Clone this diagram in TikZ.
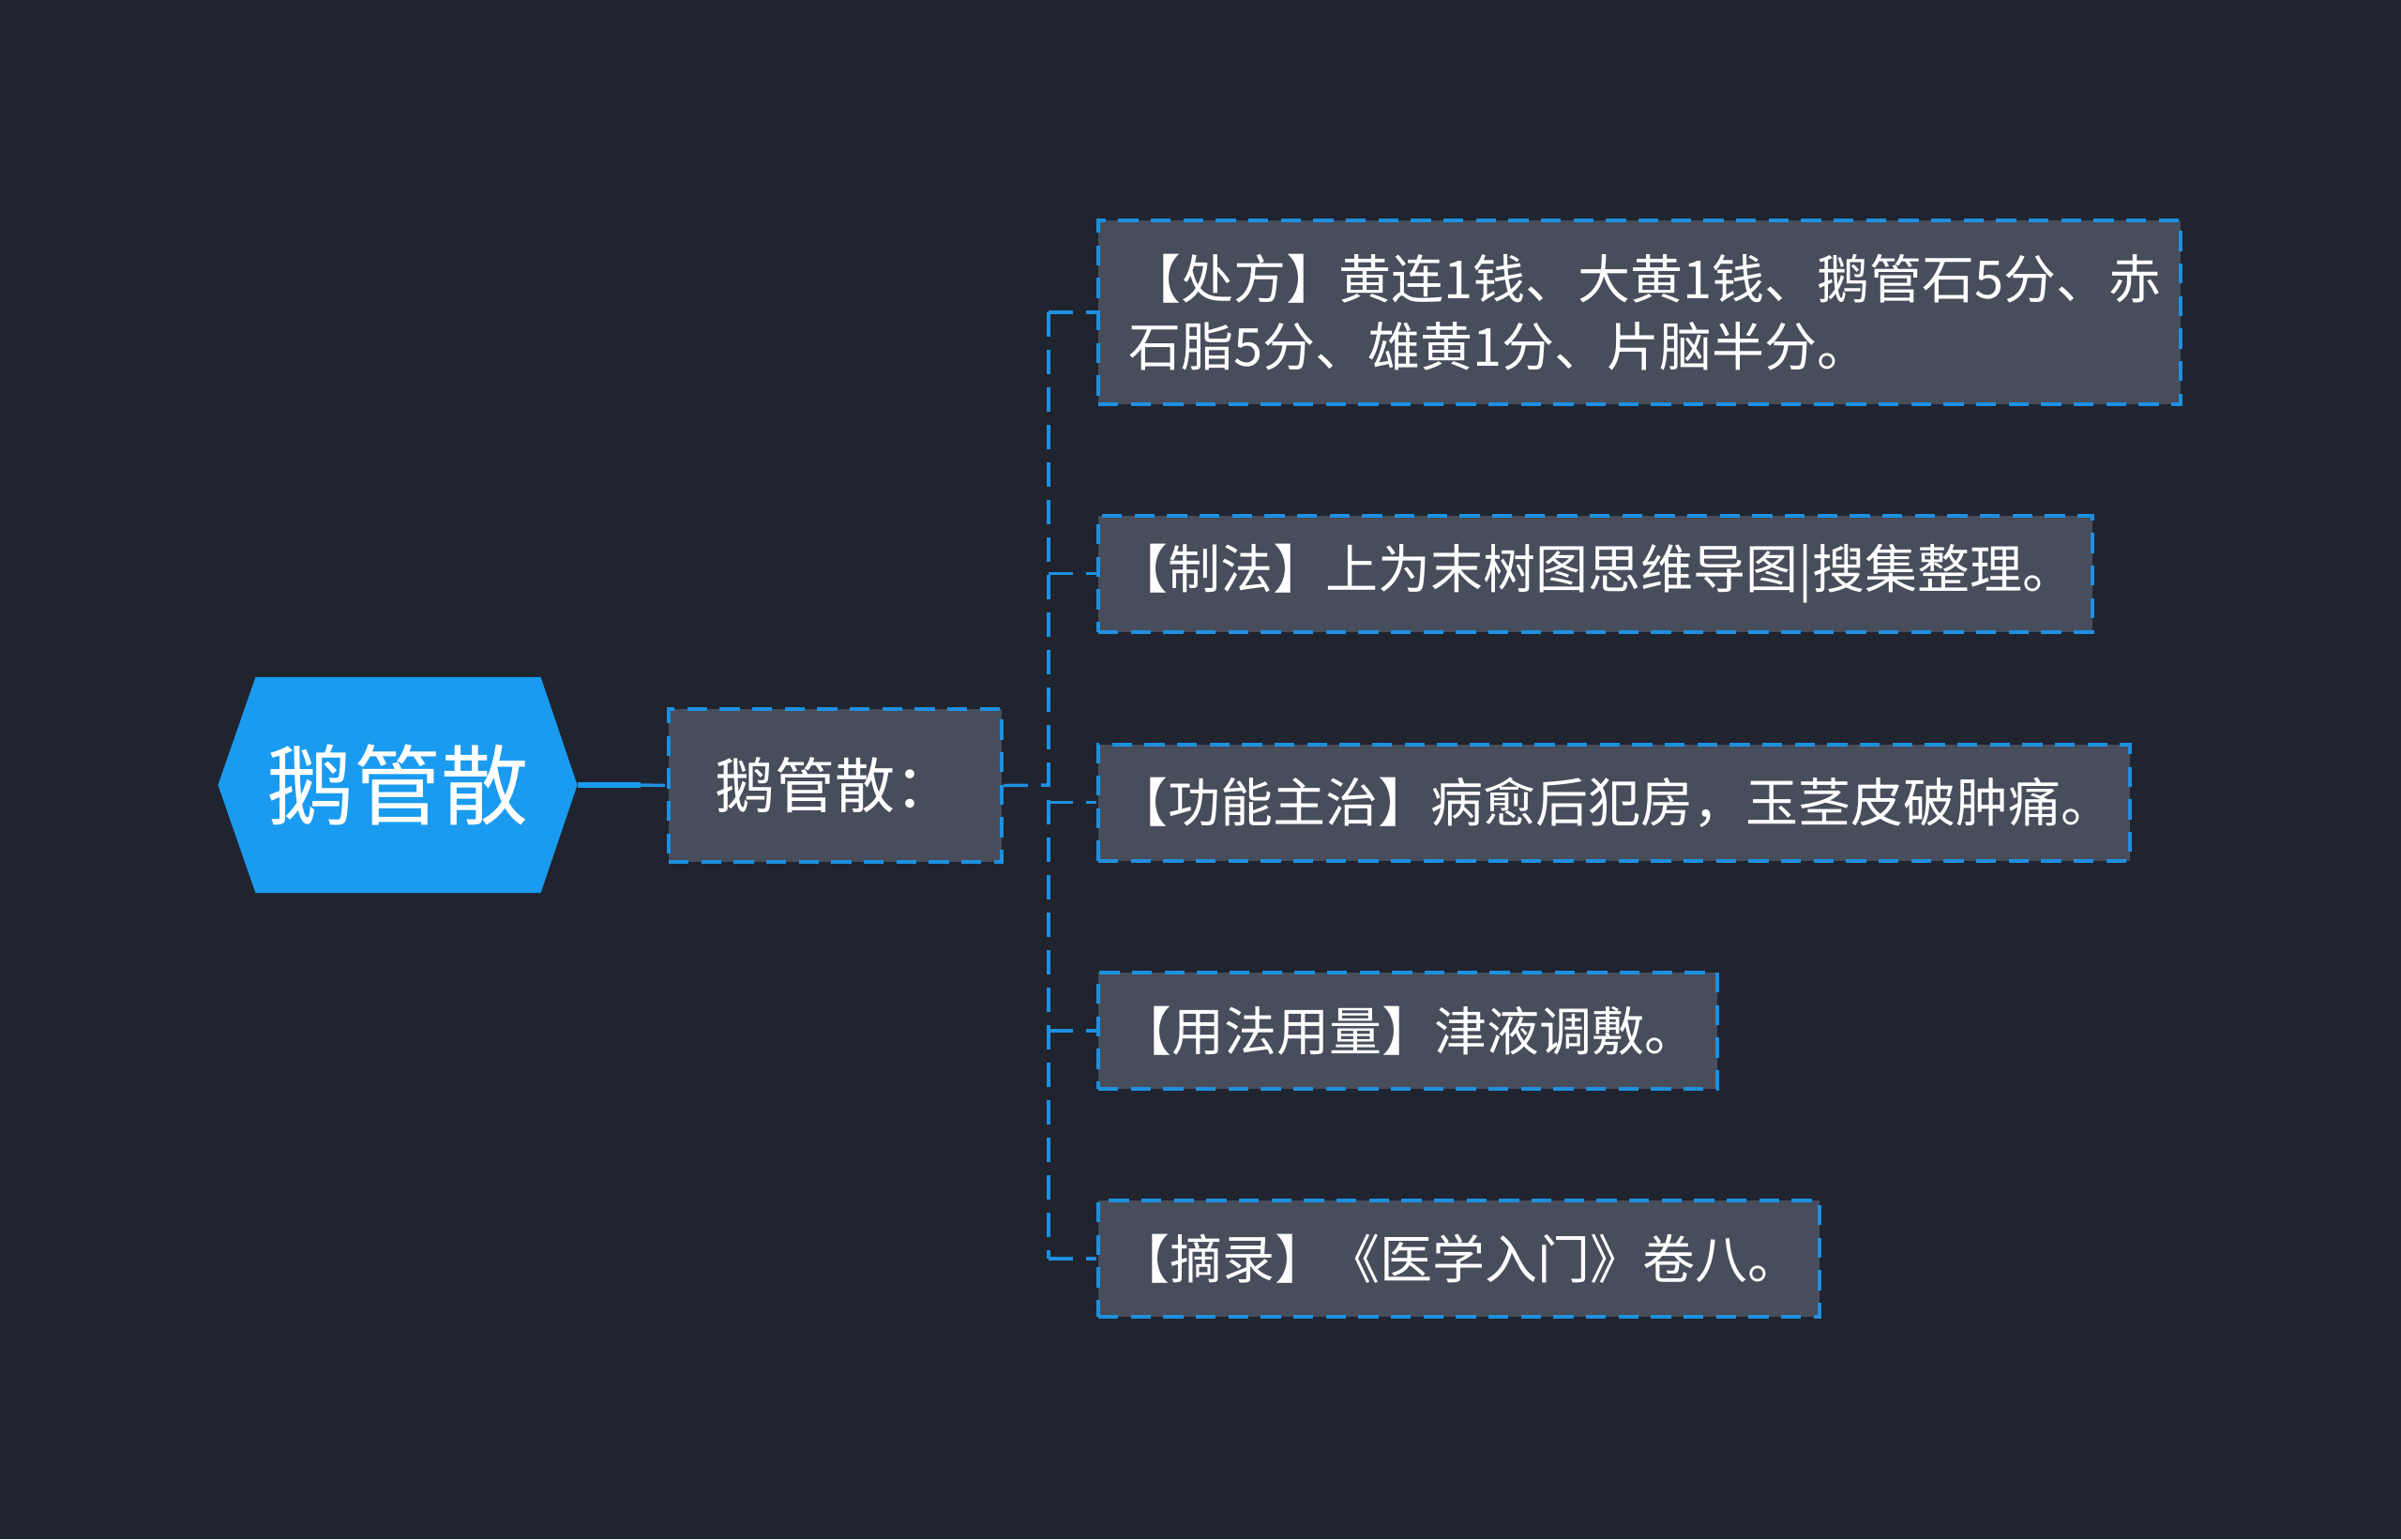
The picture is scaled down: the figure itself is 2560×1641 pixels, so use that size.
\documentclass[tikz,border=0pt]{standalone}
\usepackage{fontspec}
\setmainfont{Noto Sans CJK SC}
\usetikzlibrary{calc}
\definecolor{bg}{HTML}{20242F}
\definecolor{boxfill}{HTML}{474D5B}
\definecolor{blueline}{HTML}{1E90E0}
\definecolor{hexblue}{HTML}{1A9BF0}
\begin{document}
\begin{tikzpicture}[x=0.375pt,y=-0.375pt,
  leafbox/.style={draw=blueline, fill=boxfill, line width=1.5pt, dash pattern=on 8pt off 5pt,
    text=white, font=\fontsize{21}{27}\selectfont, inner sep=0pt, anchor=west, minimum height=46.5pt},
  conn/.style={draw=blueline, line width=1.3pt, dash pattern=on 9.75pt off 5.25pt},
]
\fill[bg] (0,0) rectangle (2560,1641);
\useasboundingbox (0,0) rectangle (2560,1641);
% root hexagon
\node[minimum width=143.25pt, minimum height=85.9pt, inner sep=0pt] (root) at (424,837) {};
\fill[hexblue] (root.west) -- ($(root.north west)+(40,0)$) -- ($(root.north east)+(-39,0)$)
  -- (root.east) -- ($(root.south east)+(-39,0)$) -- ($(root.south west)+(40,0)$) -- cycle;
\node[text=white, font=\fontsize{35}{40}\selectfont] at (root) {鹅管散};
% sub node
\node[draw=blueline, fill=boxfill, line width=1.5pt, dash pattern=on 8pt off 5pt, text=white,
  font=\fontsize{24}{28}\selectfont, inner sep=0pt, minimum width=133.1pt, minimum height=61.1pt]
  (sub) at (890.5,837.5) {鹅管散：};
\coordinate (j0) at (683,837);
\draw[hexblue, line width=2.25pt] (root.east) -- (j0);
\draw[conn] (j0) -- (sub.west);
% children
\node[leafbox, align=left, text width=408.75pt, inner xsep=12pt, minimum height=73.5pt] (c1) at (1169,333)
  {【处方】黄连1钱、大黄1钱、鹅管石5分、赤\\石脂5分、雄黄1分、片脑半分。};
\node[leafbox, minimum width=397.5pt] (c2) at (1169,611.5) {【制法】上为末树图思维导图|搜集整理。};
\node[leafbox, minimum width=412.5pt] (c3) at (1169,855.5) {【功能主治】病愈后犯房，玉茎皮破肿痛。};
\node[leafbox, minimum width=247.5pt] (c4) at (1169,1099) {【用法用量】津液调敷。};
\node[leafbox, minimum width=288.4pt] (c5) at (1169,1342) {【摘录】《医学入门》卷八。};
% trunk
\coordinate (tj) at (1118,837);
\draw[conn] (sub.east) -- (tj);
\draw[conn] (tj |- c1.west) -- (tj |- c5.west);
\foreach \c in {c1,c2,c3,c4,c5}{
  \draw[conn] (tj |- \c.west) -- (\c.west);
}
\end{tikzpicture}
\end{document}
